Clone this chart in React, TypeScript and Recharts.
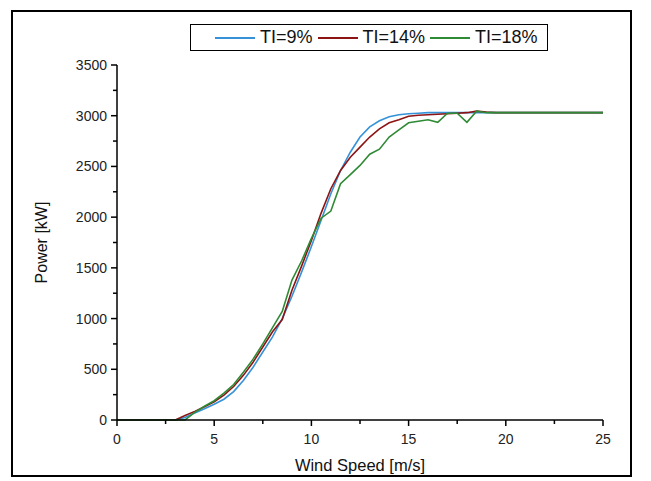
import React from 'react'
import { LineChart, Line, XAxis, YAxis, Label } from 'recharts'

const windSpeed = [
  0, 0.5, 1, 1.5, 2, 2.5, 3, 3.5, 4, 4.5,
  5, 5.5, 6, 6.5, 7, 7.5, 8, 8.5, 9, 9.5,
  10, 10.5, 11, 11.5, 12, 12.5, 13, 13.5, 14, 14.5,
  15, 15.5, 16, 16.5, 17, 17.5, 18, 18.5, 19, 19.5,
  20, 20.5, 21, 21.5, 22, 22.5, 23, 23.5, 24, 24.5,
  25,
]

const powerTI9 = [
  0, 0, 0, 0, 0, 0, 0, 25, 70, 110,
  155, 205, 280, 390, 520, 670, 820, 1000, 1220, 1460,
  1710, 1970, 2230, 2460, 2640, 2790, 2890, 2950, 2990, 3010,
  3020, 3025, 3030, 3030, 3030, 3030, 3030, 3030, 3030, 3030,
  3030, 3030, 3030, 3030, 3030, 3030, 3030, 3030, 3030, 3030,
  3030,
]

const powerTI14 = [
  0, 0, 0, 0, 0, 0, 0, 45, 85, 130,
  180, 245, 330, 440, 570, 720, 870, 990, 1280, 1520,
  1770, 2040, 2280, 2460, 2590, 2690, 2790, 2870, 2930, 2960,
  2995, 3005, 3010, 3015, 3020, 3025, 3030, 3045, 3035, 3030,
  3030, 3030, 3030, 3030, 3030, 3030, 3030, 3030, 3030, 3030,
  3030,
]

const powerTI18 = [
  0, 0, 0, 0, 0, 0, 0, 0, 75, 135,
  190, 265, 350, 470, 600, 750, 910, 1070, 1380, 1570,
  1790, 1990, 2060, 2330, 2420, 2510, 2620, 2670, 2790, 2860,
  2930, 2945, 2960, 2935, 3025, 3025, 2935, 3045, 3030, 3030,
  3030, 3030, 3030, 3030, 3030, 3030, 3030, 3030, 3030, 3030,
  3030,
]

const xTicks = [0, 2.5, 5, 7.5, 10, 12.5, 15, 17.5, 20, 22.5, 25]
const xLabels = [0, 5, 10, 15, 20, 25]
const yTicks = [0, 250, 500, 750, 1000, 1250, 1500, 1750, 2000, 2250, 2500, 2750, 3000, 3250, 3500]
const yLabels = [0, 500, 1000, 1500, 2000, 2500, 3000, 3500]

const SERIES = [
  { key: 'ti9', name: 'TI=9%', color: '#3592d8' },
  { key: 'ti14', name: 'TI=14%', color: '#8c1414' },
  { key: 'ti18', name: 'TI=18%', color: '#2f8a35' },
]

const FONT = '"Liberation Sans", Arial, sans-serif'

const data = windSpeed.map((ws, i) => ({
  ws,
  ti9: powerTI9[i],
  ti14: powerTI14[i],
  ti18: powerTI18[i],
}))

function XTick({ x, y, payload }: any) {
  const major = xLabels.includes(payload.value)
  return (
    <g>
      <line x1={x} x2={x} y1={y} y2={y + (major ? 6 : 4)} stroke="#000" strokeWidth={1.5} />
      {major && (
        <text x={x} y={y + 24} textAnchor="middle" fontSize={14} fontFamily={FONT} fill="#222">
          {payload.value}
        </text>
      )}
    </g>
  )
}

function YTick({ x, y, payload }: any) {
  const major = yLabels.includes(payload.value)
  return (
    <g>
      <line x1={x} x2={x - (major ? 6 : 4)} y1={y} y2={y} stroke="#000" strokeWidth={1.5} />
      {major && (
        <text x={x - 10} y={y + 5} textAnchor="end" fontSize={14} fontFamily={FONT} fill="#222">
          {payload.value}
        </text>
      )}
    </g>
  )
}

export default function App() {
  return (
    <div style={{ position: 'absolute', left: 0, top: 0, width: 651, height: 481, background: '#fff' }}>
      <div
        style={{
          position: 'absolute',
          left: 11,
          top: 10,
          width: 621,
          height: 467,
          border: '2px solid #000',
          boxSizing: 'border-box',
        }}
      />
      <LineChart
        width={651}
        height={481}
        data={data}
        margin={{ top: 65, right: 48, bottom: 11, left: 37 }}
      >
        <XAxis
          dataKey="ws"
          type="number"
          domain={[0, 25]}
          ticks={xTicks}
          interval={0}
          tickLine={false}
          tickSize={0}
          tickMargin={0}
          tick={<XTick />}
          axisLine={{ stroke: '#000', strokeWidth: 1.5 }}
          height={50}
        >
          <Label
            value="Wind Speed [m/s]"
            position="insideBottom"
            offset={-1}
            style={{ fontSize: 16.5, fontFamily: FONT, fill: '#111' }}
          />
        </XAxis>
        <YAxis
          type="number"
          domain={[0, 3500]}
          ticks={yTicks}
          interval={0}
          tickLine={false}
          tickSize={0}
          tickMargin={0}
          tick={<YTick />}
          axisLine={{ stroke: '#000', strokeWidth: 1.5 }}
          width={80}
        >
          <Label
            value="Power [kW]"
            angle={-90}
            position="insideLeft"
            offset={4}
            style={{ fontSize: 16, fontFamily: FONT, fill: '#111', textAnchor: 'middle' }}
          />
        </YAxis>
        {SERIES.map((s) => (
          <Line
            key={s.key}
            type="linear"
            dataKey={s.key}
            name={s.name}
            stroke={s.color}
            strokeWidth={1.6}
            dot={false}
            isAnimationActive={false}
          />
        ))}
      </LineChart>
      <div
        style={{
          position: 'absolute',
          left: 190,
          top: 24,
          width: 358,
          height: 27,
          border: '1px solid #000',
          boxSizing: 'border-box',
          display: 'flex',
          alignItems: 'center',
          paddingLeft: 24,
          fontFamily: FONT,
          fontSize: 18,
          color: '#111',
          whiteSpace: 'nowrap',
        }}
      >
        {SERIES.map((s) => (
          <div key={s.key} style={{ display: 'flex', alignItems: 'center', marginRight: 5 }}>
            <div style={{ width: 40, height: 2, background: s.color, marginRight: 5 }} />
            <span>{s.name}</span>
          </div>
        ))}
      </div>
    </div>
  )
}
